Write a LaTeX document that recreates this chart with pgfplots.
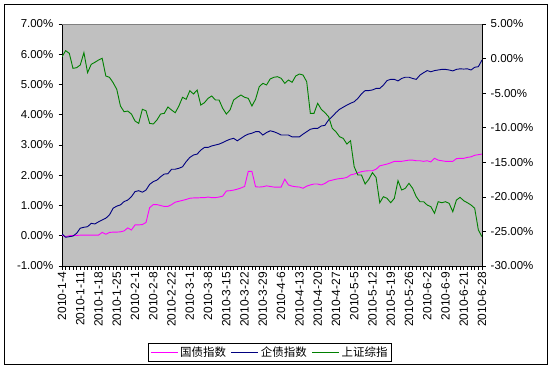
\documentclass[border=0pt]{standalone}
\usepackage{pgfplots}
\pgfplotsset{compat=1.18}
\usepackage{pgfplotstable}
\usepackage{fontspec}
\setmainfont{Liberation Sans}
\newfontfamily\cjk{Noto Sans CJK SC}
\definecolor{gz}{HTML}{FF00FF}
\definecolor{qz}{HTML}{000080}
\definecolor{sz}{HTML}{008000}
\definecolor{plotbg}{HTML}{C0C0C0}

\pgfplotstableread{
i gz qz sz
0 0.02 0.06 0.27
1 -0.03 -0.05 1.14
2 0.00 -0.03 0.76
3 0.01 -0.01 -1.41
4 0.01 0.08 -1.32
5 0.02 0.25 -0.93
6 0.02 0.28 0.86
7 0.02 0.30 -2.04
8 0.02 0.41 -0.83
9 0.02 0.39 -0.54
10 0.02 0.46 -0.21
11 0.11 0.52 0.04
12 0.05 0.58 -2.52
13 0.11 0.69 -2.71
14 0.12 0.91 -3.49
15 0.12 0.98 -4.45
16 0.13 1.02 -6.86
17 0.16 1.13 -7.69
18 0.26 1.18 -7.59
19 0.19 1.29 -8.02
20 0.36 1.46 -9.03
21 0.36 1.49 -9.37
22 0.37 1.44 -7.34
23 0.44 1.51 -7.54
24 0.93 1.70 -9.37
25 1.03 1.79 -9.46
26 1.03 1.84 -8.88
27 1.00 1.95 -8.02
28 0.97 2.04 -7.92
29 0.97 2.05 -7.00
30 1.03 2.20 -7.44
31 1.11 2.20 -7.83
32 1.14 2.23 -6.86
33 1.17 2.28 -5.60
34 1.20 2.45 -5.89
35 1.24 2.59 -4.65
36 1.25 2.67 -5.12
37 1.25 2.70 -4.55
38 1.26 2.83 -6.72
39 1.26 2.92 -6.38
40 1.28 2.92 -5.75
41 1.26 2.97 -5.41
42 1.26 3.00 -5.99
43 1.28 3.03 -5.99
44 1.31 3.08 -7.19
45 1.48 3.14 -8.02
46 1.49 3.19 -7.44
47 1.51 3.22 -5.99
48 1.54 3.14 -5.60
49 1.58 3.22 -5.27
50 1.63 3.30 -5.60
51 2.13 3.36 -5.75
52 2.13 3.39 -6.86
53 1.62 3.44 -5.89
54 1.61 3.44 -4.07
55 1.62 3.33 -3.58
56 1.65 3.41 -3.82
57 1.63 3.47 -2.95
58 1.61 3.44 -2.71
59 1.61 3.39 -2.62
60 1.61 3.33 -2.85
61 1.87 3.33 -3.58
62 1.68 3.33 -3.10
63 1.64 3.27 -3.43
64 1.62 3.27 -2.52
65 1.61 3.27 -2.23
66 1.57 3.36 -2.38
67 1.64 3.44 -3.34
68 1.68 3.52 -7.92
69 1.71 3.55 -7.92
70 1.71 3.55 -6.47
71 1.68 3.63 -7.34
72 1.73 3.65 -7.83
73 1.81 3.83 -8.40
74 1.84 3.94 -10.09
75 1.87 4.07 -10.58
76 1.89 4.18 -11.30
77 1.90 4.25 -11.54
78 1.93 4.32 -12.36
79 2.01 4.38 -11.88
80 2.04 4.43 -15.64
81 2.08 4.54 -16.84
82 2.12 4.69 -16.84
83 2.14 4.80 -18.14
84 2.15 4.80 -17.47
85 2.15 4.82 -16.50
86 2.20 4.87 -17.20
87 2.31 4.87 -20.85
88 2.34 4.98 -19.98
89 2.37 5.13 -20.21
90 2.41 5.17 -20.85
91 2.46 5.17 -20.21
92 2.46 5.12 -17.66
93 2.46 5.20 -19.01
94 2.48 5.24 -18.76
95 2.50 5.24 -18.04
96 2.50 5.20 -18.76
97 2.48 5.17 -19.98
98 2.48 5.31 -20.70
99 2.46 5.39 -20.70
100 2.48 5.46 -21.18
101 2.44 5.42 -21.42
102 2.56 5.46 -22.38
103 2.50 5.48 -20.70
104 2.48 5.50 -20.85
105 2.46 5.50 -20.70
106 2.46 5.48 -20.94
107 2.46 5.45 -22.15
108 2.55 5.50 -20.46
109 2.56 5.52 -20.07
110 2.56 5.51 -20.56
111 2.59 5.52 -20.85
112 2.61 5.48 -21.18
113 2.66 5.57 -21.65
114 2.68 5.59 -24.79
115 2.70 5.81 -25.76
}\data

\begin{document}
\begin{tikzpicture}[font=\fontsize{11}{13}\selectfont]
\useasboundingbox (0,0) rectangle (553bp,-369bp);
\draw[black, line width=0.9bp] (4bp,-4bp) rectangle (547bp,-364bp);
\begin{axis}[
  at={(62bp,-266bp)}, anchor=south west,
  scale only axis, width=420bp, height=242bp,
  xmin=0, xmax=115, ymin=-1, ymax=7,
  axis background/.style={fill=plotbg},
  axis x line*=bottom, axis y line*=left,
  xtick={0,5,...,115},
  minor xtick={0,1,...,115},
  xticklabels={2010-1-4,2010-1-11,2010-1-18,2010-1-25,2010-2-1,2010-2-8,2010-2-22,2010-3-1,2010-3-8,2010-3-15,2010-3-22,2010-3-29,2010-4-6,2010-4-13,2010-4-20,2010-4-27,2010-5-5,2010-5-12,2010-5-19,2010-5-26,2010-6-2,2010-6-9,2010-6-21,2010-6-28},
  x tick label style={rotate=90, anchor=east, inner sep=2.5bp, font=\fontsize{12}{14}\selectfont},
  ytick={-1,0,...,7},
  yticklabel={\pgfmathprintnumber[fixed,fixed zerofill,precision=2]{\tick}\%},
  /pgf/number format/assume math mode=true,
  y tick label style={inner sep=5bp, font=\fontsize{11.5}{13}\selectfont},
  tick align=outside,
  major tick length=3.5bp, minor tick length=3.5bp,
  tick style={black, line width=0.7bp},
  axis line style={black, line width=0.9bp},
]
\addplot[gz, line width=0.9bp] table[x=i,y=gz]{\data};
\addplot[qz, line width=0.9bp] table[x=i,y=qz]{\data};
\draw[color=gray, line width=0.9bp] (rel axis cs:0,1) -- (rel axis cs:1,1);
\end{axis}
\begin{axis}[
  at={(62bp,-266bp)}, anchor=south west,
  scale only axis, width=420bp, height=242bp,
  xmin=0, xmax=115, ymin=-30, ymax=5,
  axis x line=none, axis y line*=right,
  ytick={-30,-25,...,5},
  yticklabel={\pgfmathprintnumber[fixed,fixed zerofill,precision=2]{\tick}\%},
  /pgf/number format/assume math mode=true,
  y tick label style={inner sep=5bp, font=\fontsize{11.5}{13}\selectfont},
  tick align=outside,
  major tick length=3.5bp,
  tick style={black, line width=0.7bp},
  axis line style={black, line width=0.9bp},
  legend columns=3,
  legend style={at={(0.495,-0.318)}, anchor=north, draw=black, line width=0.7bp, fill=white,
    inner sep=1.5bp, font=\fontsize{11.5}{13}\selectfont, /tikz/every even column/.append style={column sep=3bp}},
  legend image code/.code={\draw[#1] (0bp,0bp) -- (27bp,0bp);},
]
\addlegendimage{gz, line width=0.9bp}
\addlegendentry{\cjk 国债指数}
\addlegendimage{qz, line width=0.9bp}
\addlegendentry{\cjk 企债指数}
\addplot[sz, line width=0.9bp] table[x=i,y=sz]{\data};
\addlegendentry{\cjk 上证综指}
\end{axis}
\end{tikzpicture}
\end{document}
